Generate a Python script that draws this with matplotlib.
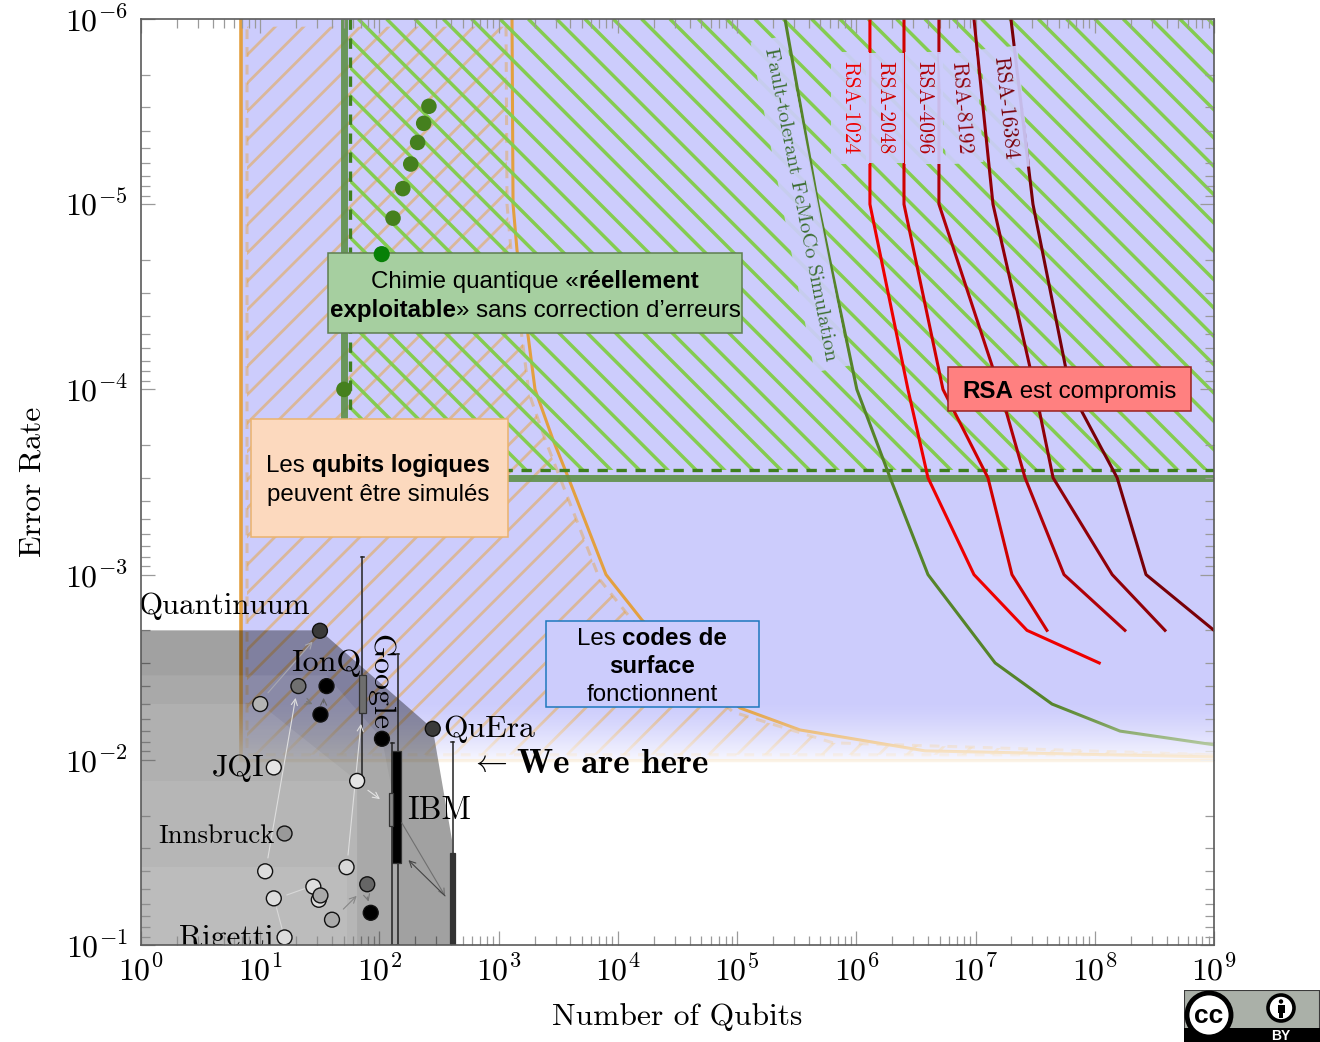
import numpy as np
import matplotlib
matplotlib.use('Agg')
import matplotlib.pyplot as plt
from matplotlib.collections import LineCollection
from matplotlib.patches import Polygon, Rectangle, Circle
from matplotlib.ticker import LogLocator, NullFormatter

plt.rcParams['mathtext.fontset'] = 'cm'
plt.rcParams['axes.unicode_minus'] = False

# ---------------------------- data ----------------------------
FIG_W, FIG_H = 1320, 1042
AX_L, AX_R, AX_T, AX_B = 141, 1214, 19, 945

BLUE_LEFT = 6.9
BLUE_BOTTOM = 1e-2

orange_x = [1294, 1320, 1425, 2018, 2857, 3817, 7950, 15930, 1.057e5, 3.37e5, 3.77e6, 1e9]
orange_y = [1e-6, 1e-5, 1.77e-5, 1e-4, 1.87e-4, 2.97e-4, 1e-3, 1.76e-3, 5.25e-3, 6.9e-3, 8.95e-3, 9.66e-3]
inset_x = [7.75, 1153, 1175, 1269, 1796, 2496, 3398, 7080, 14190, 92400, 6.37e5, 1e9, 7.75, 7.75]
inset_y = [1.1e-6, 1.1e-6, 1e-5, 1.77e-5, 1.05e-4, 1.92e-4, 3.2e-4, 1.07e-3, 1.87e-3, 5.52e-3, 8.1e-3, 9.4e-3, 9.4e-3, 1.1e-6]

GREEN_X_SOLID, GREEN_X_DASH = 50.4, 56.6
GREEN_Y_SOLID, GREEN_Y_DASH = 3.0e-4, 2.72e-4

femoco_x = [2.52e5, 4.77e5, 1.01e6, 1.92e6, 3.99e6, 1.46e7, 4.38e7, 1.63e8, 1e9]
femoco_y = [1e-6, 1e-5, 1e-4, 3e-4, 1e-3, 3e-3, 5e-3, 7e-3, 8.3e-3]

rsa_y = [1e-6, 1e-5, 1e-4, 3e-4, 1e-3, 2e-3, 3e-3]
rsa1024_x = [1.30e6, 1.30e6, 2.71e6, 3.99e6, 9.7e6, 2.70e7, 1.09e8]
rsa2048_x = [2.51e6, 2.51e6, 5.33e6, 1.27e7, 2.02e7, 3.97e7]
rsa4096_x = [4.93e6, 4.93e6, 1.60e7, 2.6e7, 5.52e7, 1.79e8]
rsa8192_x = [9.7e6, 1.4e7, 3.15e7, 4.47e7, 1.4e8, 3.88e8]
rsa16384_x = [1.98e7, 3.03e7, 6.2e7, 1.54e8, 2.69e8, 1e9]
rsa_colors = ['#EE0000', '#D00000', '#B00008', '#900008', '#780008']

grey_q_x = [1, 31.7, 280, 406, 430, 1]
grey_q_y = [2e-3, 2e-3, 6.8e-3, 2.71e-2, 1e-1, 1e-1]
grey_g_x = [1, 36, 105, 140, 140, 1]
grey_g_y = [3.5e-3, 3.5e-3, 7.7e-3, 2.0e-2, 1e-1, 1e-1]
grey_3_x = [1, 10, 65, 65, 1]
grey_3_y = [5e-3, 5e-3, 1.3e-2, 1e-1, 1e-1]
grey_4_x = [1, 65, 65, 1]
grey_4_y = [1.3e-2, 1.3e-2, 1e-1, 1e-1]
grey_5_x = [1, 53, 53, 1]
grey_5_y = [3.8e-2, 3.8e-2, 1e-1, 1e-1]

device_x = [31.7, 280, 20.9, 36, 32, 10, 105, 13, 65, 16, 11, 53, 79, 84.5, 13, 27.9, 31, 32, 40, 16]
device_y = [2.01e-3, 6.8e-3, 4.0e-3, 4.0e-3, 5.7e-3, 5e-3, 7.7e-3, 1.1e-2, 1.3e-2, 2.5e-2, 4.0e-2,
            3.8e-2, 4.7e-2, 6.7e-2, 5.6e-2, 4.84e-2, 5.7e-2, 5.4e-2, 7.3e-2, 9.1e-2]
device_grey = ['#3a3a3a', '#3a3a3a', '#707070', '#000000', '#000000', '#b4b4b4', '#000000', '#e4e4e4',
               '#e4e4e4', '#999999', '#dddddd', '#d8d8d8', '#666666', '#000000', '#dddddd', '#dddddd',
               '#dddddd', '#aaaaaa', '#aaaaaa', '#dddddd']

nisq_x = [260, 235, 209, 183, 157, 130, 50.4]
nisq_y = [2.96e-6, 3.66e-6, 4.64e-6, 6.07e-6, 8.24e-6, 1.19e-5, 1.0e-4]
nisq2_x, nisq2_y = [104.5], [1.86e-5]

whisker_x = [71.8, 142, 128, 411]
whisker_top = [8e-4, 2.7e-3, 8.1e-3, 8e-3]
whisker_bot = [1.25e-2, 1e-1, 1e-1, 1e-1]
box_x0 = [67, 128, 120, 391]
box_x1 = [77, 152, 131, 433]
box_top = [3.5e-3, 9e-3, 1.51e-2, 3.18e-2]
box_bot = [5.6e-3, 3.6e-2, 2.27e-2, 1e-1]
box_col = ['#6e6e6e', '#000000', '#868686', '#333333']

# x0, y0, x1, y1, colour, head
arrows = [
    (11.6, 3.39e-2, 19.8, 4.63e-3, '#dedede', True),
    (54.5, 3.27e-2, 70, 6.4e-3, '#dedede', True),
    (11.6, 4.35e-3, 27.5, 2.3e-3, '#a8a8b0', True),
    (80, 1.46e-2, 101, 1.63e-2, '#e4e4e4', True),
    (24.5, 4.85e-3, 27.5, 5.0e-3, '#777777', True),
    (34, 4.93e-3, 34, 4.63e-3, '#666666', True),
    (49.8, 6.4e-2, 64.4, 5.43e-2, '#868686', True),
    (79, 5.5e-2, 81, 5.83e-2, '#777777', True),
    (154, 2.19e-2, 355, 5.43e-2, '#707070', True),
    (355, 5.43e-2, 175, 3.48e-2, '#444444', True),
    (16.7, 5.37e-2, 24.5, 4.92e-2, '#d8d8d8', False),
    (13.7, 6.3e-2, 15.5, 8.5e-2, '#d8d8d8', False),
]

x_ticks = [10.0 ** k for k in range(10)]
x_labels = [f'$10^{{{k}}}$' for k in range(10)]
y_ticks = [10.0 ** -k for k in range(1, 7)]
y_labels = [f'$10^{{-{k}}}$' for k in range(1, 7)]

# ---------------------------- figure ----------------------------
fig = plt.figure(figsize=(FIG_W / 100, FIG_H / 100), dpi=100, facecolor='white')
ax = fig.add_axes([AX_L / FIG_W, 1 - AX_B / FIG_H, (AX_R - AX_L) / FIG_W, (AX_B - AX_T) / FIG_H])
ax.set_xscale('log')
ax.set_yscale('log')


def frac(px, py):
    return (px - AX_L) / (AX_R - AX_L), (AX_B - py) / (AX_B - AX_T)


def hatch(c0, sign, clip, color, lw, alpha, z):
    """Diagonal hatch, 28.33 px apart; sign=+1: '/' and sign=-1: '\\'."""
    segs = []
    for k in range(-90, 120):
        c = c0 + k * 28.33
        if sign > 0:   # x + y = c
            a = frac(c - AX_T, AX_T)
            b = frac(c - AX_B, AX_B)
        else:          # x - y = c
            a = frac(c + AX_T, AX_T)
            b = frac(c + AX_B, AX_B)
        segs.append([a, b])
    lc = LineCollection(segs, colors=color, linewidths=lw, alpha=alpha, zorder=z,
                        transform=ax.transAxes)
    ax.add_collection(lc, autolim=False)
    lc.set_clip_path(clip)


# blue
ax.add_patch(Rectangle((BLUE_LEFT, 1e-6), 1e9 - BLUE_LEFT, BLUE_BOTTOM - 1e-6, fc='#CCCCFC', ec='none', zorder=1))

# orange region
clip_o = Polygon(list(zip(inset_x, inset_y)), closed=True, fill=False, ec='none', transform=ax.transData)
ax.add_patch(clip_o)
hatch(302, +1, clip_o, '#E8A33A', 2.0, 0.5, 1.2)
ax.plot(inset_x[1:], inset_y[1:], color='#E8A33A', alpha=0.42, lw=2.2, dashes=(3.2, 2.6), zorder=1.25)
ax.plot([BLUE_LEFT, BLUE_LEFT], [1e-6, BLUE_BOTTOM], color='#E3A040', lw=2.6, zorder=1.3)
ax.plot(orange_x, orange_y, color='#E3A040', lw=2.2, zorder=1.3)
ax.plot([BLUE_LEFT, 1e9], [BLUE_BOTTOM, BLUE_BOTTOM], color='#E3A040', lw=2.2, zorder=1.3)

# green region
green_verts = [(GREEN_X_DASH, 1e-6), (1e9, 1e-6), (1e9, GREEN_Y_DASH), (GREEN_X_DASH, GREEN_Y_DASH)]
clip_g = Polygon(green_verts, closed=True, fill=False, ec='none', transform=ax.transData)
ax.add_patch(clip_g)
hatch(339.3, -1, clip_g, '#84CC50', 2.5, 1.0, 1.4)
ax.plot([GREEN_X_SOLID, GREEN_X_SOLID], [1e-6, GREEN_Y_SOLID], color='#5E9048', alpha=0.9, lw=5, zorder=1.5,
        solid_capstyle='butt')
ax.plot([GREEN_X_SOLID, 1e9], [GREEN_Y_SOLID, GREEN_Y_SOLID], color='#5E9048', alpha=0.9, lw=5, zorder=1.5,
        solid_capstyle='butt')
ax.plot([GREEN_X_DASH, GREEN_X_DASH], [1e-6, GREEN_Y_DASH], color='#3F8020', lw=2.4, dashes=(3.1, 2.6), zorder=1.5)
ax.plot([GREEN_X_DASH, 1e9], [GREEN_Y_DASH, GREEN_Y_DASH], color='#3F8020', lw=2.4, dashes=(3.1, 2.6), zorder=1.5)

# curves
ax.plot(femoco_x, femoco_y, color='#55842A', lw=2.2, zorder=1.6)
for xs, col in zip([rsa1024_x, rsa2048_x, rsa4096_x, rsa8192_x, rsa16384_x], rsa_colors):
    ax.plot(xs, rsa_y[:len(xs)], color=col, lw=2.2, zorder=1.6)

# fading of the lower edge of the blue region
fade = np.ones((60, 1, 4))
fade[:, 0, 3] = 0.88 * np.linspace(0, 1, 60) ** 1.4
x0, _ = frac(236, 0)
_, y0 = frac(0, 762)
_, y1 = frac(0, 700)
ax.imshow(fade, extent=[x0, 1, y0, y1], transform=ax.transAxes, aspect='auto', zorder=1.8, origin='upper')

# grey envelopes
ax.add_patch(Polygon(list(zip(grey_q_x, grey_q_y)), closed=True, fc='black', alpha=0.37, ec='none', zorder=2))
for xs, ys in [(grey_g_x, grey_g_y), (grey_3_x, grey_3_y), (grey_4_x, grey_4_y), (grey_5_x, grey_5_y)]:
    ax.add_patch(Polygon(list(zip(xs, ys)), closed=True, fc='white', alpha=0.085, ec='none', zorder=2.1))

# whiskers and boxes
for x, t, b in zip(whisker_x, whisker_top, whisker_bot):
    ax.plot([x, x], [t, b], color='#222222', lw=1.1, zorder=3)
    ax.plot([x / 1.03, x * 1.03], [t, t], color='#222222', lw=1.1, zorder=3)
    ax.plot([x / 1.03, x * 1.03], [b, b], color='#222222', lw=1.1, zorder=3, clip_on=True)
for x0b, x1b, t, b, c in zip(box_x0, box_x1, box_top, box_bot, box_col):
    ax.add_patch(Rectangle((x0b, t), x1b - x0b, b - t, fc=c, ec='#333333', lw=0.9, zorder=3.1))

# arrows
for xa, ya, xb, yb, col, head in arrows:
    ax.annotate('', xy=(xb, yb), xytext=(xa, ya), zorder=3.2,
                arrowprops=dict(arrowstyle='->' if head else '-', color=col, lw=0.8,
                                shrinkA=0, shrinkB=0, mutation_scale=11))

# points
ax.scatter(device_x, device_y, s=115, c=device_grey, edgecolors='#111111', linewidths=1.0, zorder=3.5)
ax.scatter(nisq_x, nisq_y, s=125, c='#45801E', edgecolors='none', zorder=3.5)
ax.scatter(nisq2_x, nisq2_y, s=135, c='#078007', edgecolors='none', zorder=7)

# text labels
CM = 'cmr10'


def lab(px, py, s, size=23, ha='left', va='baseline', rot=0, color='black', family=CM, clip=False, bg=False):
    fx, fy = frac(px, py)
    kw = {}
    if bg:
        kw['bbox'] = dict(fc='#CCCCFC', ec='none', alpha=0.92, boxstyle='square,pad=0.42')
    return ax.text(fx, fy, s, fontsize=size, ha=ha, va=va, rotation=rot, color=color, family=family,
                   transform=ax.transAxes, zorder=4, clip_on=clip, rotation_mode='anchor', **kw)


lab(138, 614, 'Quantinuum', size=22.3)
lab(291, 671, 'IonQ')
lab(443, 737, 'QuEra', size=22.8)
lab(212, 776, 'JQI')
lab(407, 819, 'IBM', size=23.2)
lab(158, 843, 'Innsbruck', size=19.3)
lab(179, 946, 'Rigetti', size=22.6, clip=True)
lab(372, 634, 'Google', size=23, rot=-90)
lab(517, 773, 'We are here', size=25.2, family='cmb10')
lab(489, 763, r'$\leftarrow$', size=23, ha='center', va='center', family='DejaVu Sans')

lab(850, 108, 'RSA-1024', size=15.3, rot=-90, ha='center', va='center', color='#EE0000', bg=True)
lab(885, 108, 'RSA-2048', size=15.3, rot=-90, ha='center', va='center', color='#D00000', bg=True)
lab(924, 108, 'RSA-4096', size=15.3, rot=-90, ha='center', va='center', color='#B00008', bg=True)
lab(961, 108, 'RSA-8192', size=15.3, rot=-86, ha='center', va='center', color='#900008', bg=True)
lab(1005, 108, 'RSA-16384', size=15.3, rot=-84, ha='center', va='center', color='#780008', bg=True)
lab(800, 204, 'Fault-tolerant FeMoCo Simulation', size=15, rot=-79, ha='center', va='center', color='#3C6E32', bg=True)

# annotation boxes


def box(l, t, r, b, fc, ec):
    fx, fy = frac(l, b)
    ax.add_patch(Rectangle((fx, fy), (r - l) / (AX_R - AX_L), (b - t) / (AX_B - AX_T), fc=fc, ec=ec, lw=1.1,
                           transform=ax.transAxes, zorder=5))


box(328, 253, 742, 333, '#A6CFA0', '#5E7E50')
box(251, 419, 508, 537, '#FCD9BE', '#EBB26C')
box(546, 621, 759, 707, '#CCCCFC', '#1E78BE')
box(948, 367, 1191, 411, '#FF8080', '#9A2020')

renderer = fig.canvas.get_renderer()


def width(s, bold, size):
    probe = '|'
    t = ax.text(0, 0, s + probe, family='Liberation Sans', weight='bold' if bold else 'normal', fontsize=size)
    w1 = t.get_window_extent(renderer).width
    t.set_text(probe)
    w0 = t.get_window_extent(renderer).width
    t.remove()
    return w1 - w0


def rich(xc, base, parts, size=17.35):
    total = sum(width(s, b, size) for s, b in parts)
    x = xc - total / 2
    for s, b in parts:
        fx, fy = frac(x, base)
        ax.text(fx, fy, s, family='Liberation Sans', weight='bold' if b else 'normal', fontsize=size,
                ha='left', va='baseline', transform=ax.transAxes, zorder=6, clip_on=False)
        x += width(s, b, size)


rich(535, 288, [('Chimie quantique «', False), ('réellement', True)])
rich(535, 317, [('exploitable', True), ('» sans correction d’erreurs', False)])
rich(378, 472, [('Les ', False), ('qubits logiques', True)])
rich(378, 501, [('peuvent être simulés', False)])
rich(652, 645, [('Les ', False), ('codes de', True)])
rich(652, 673, [('surface', True)])
rich(652, 701, [('fonctionnent', False)])
rich(1069, 398, [('RSA', True), (' est compromis', False)])

# axes
ax.set_xlim(1, 1e9)
ax.set_ylim(1e-1, 1e-6)
ax.set_xticks(x_ticks)
ax.set_xticklabels(x_labels, fontsize=23)
ax.set_yticks(y_ticks)
ax.set_yticklabels(y_labels, fontsize=23)
ax.xaxis.set_minor_locator(LogLocator(base=10, subs=np.arange(2, 10), numticks=20))
ax.yaxis.set_minor_locator(LogLocator(base=10, subs=np.arange(2, 10), numticks=20))
ax.xaxis.set_minor_formatter(NullFormatter())
ax.yaxis.set_minor_formatter(NullFormatter())
ax.tick_params(which='both', direction='in', top=True, right=True, color='#9a9a9a', width=0.9)
ax.tick_params(which='major', length=10)
ax.tick_params(which='minor', length=6.5)
ax.tick_params(axis='x', which='major', pad=8)
ax.tick_params(axis='y', which='major', pad=9.5)
for s in ax.spines.values():
    s.set_color('#5a5a5a')
    s.set_linewidth(1.2)
    s.set_zorder(7)

ax.set_xlabel('Number of Qubits', family=CM, fontsize=22.7, va='center')
ax.set_ylabel('Error Rate', family=CM, fontsize=22.8, va='center')
ax.xaxis.set_label_coords(*frac(677, 1017))
ax.yaxis.set_label_coords(*frac(33, 482))

# licence badge
bax = fig.add_axes([1184 / FIG_W, 0, 136 / FIG_W, 52 / FIG_H])
bax.set_xlim(1184, 1320)
bax.set_ylim(1042, 990)
bax.axis('off')
bax.add_patch(Rectangle((1184, 990), 136, 52, fc='#AAB0A8', ec='#3a3a3a', lw=1.5))
bax.add_patch(Rectangle((1184, 1028), 136, 14, fc='black', ec='none'))
bax.add_patch(Circle((1209, 1015), 22, fc='white', ec='black', lw=3.5, zorder=2))
bax.text(1209, 1016, 'cc', family='Liberation Sans', weight='bold', fontsize=19, ha='center', va='center', zorder=3)
bax.add_patch(Circle((1281, 1008), 13, fc='white', ec='black', lw=2.6, zorder=2))
bax.add_patch(Circle((1281, 1001.5), 2.2, fc='black', ec='none', zorder=3))
bax.add_patch(Rectangle((1277.5, 1005), 7, 7.5, fc='black', ec='none', zorder=3))
bax.add_patch(Rectangle((1279, 1011), 4, 7, fc='black', ec='none', zorder=3))
bax.text(1281, 1036, 'BY', family='Liberation Sans', weight='bold', fontsize=10, color='white', ha='center', va='center', zorder=3)

fig.savefig('out.png', dpi=100)
